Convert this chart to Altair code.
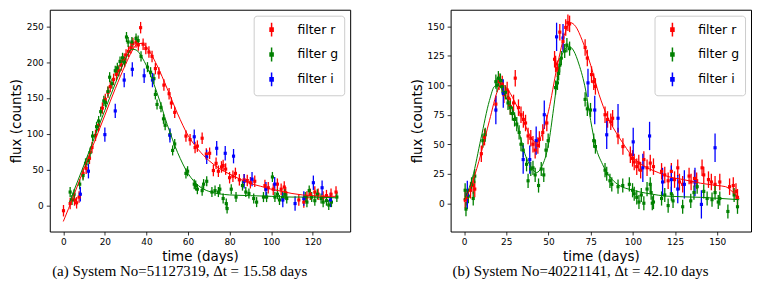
import altair as alt
import pandas as pd

FILTERS = ["filter r", "filter g", "filter i"]
COLORS = ["#ff0000", "#008000", "#0000ff"]

# ---------------- panel (a) ----------------
A_CAPTION = "(a) System No=51127319, \u0394t = 15.58 days"
A_X_DOMAIN = [-6.5, 138]
A_Y_DOMAIN = [-36, 273]
A_X_TICKS = [0, 20, 40, 60, 80, 100, 120]
A_Y_TICKS = [0, 50, 100, 150, 200, 250]
A_ERR = [8, 7, 10]

A_R_T = [0.1, 3.3, 5.4, 6.4, 7.6, 9.5, 11.0, 12.6, 13.8, 15.5, 17.0, 18.8, 20.2, 21.5, 22.6, 24.2,
         25.6, 26.8, 28.0, 29.3, 30.2, 31.4, 32.5, 33.5, 35.0, 36.1, 37.2, 38.4, 39.7, 41.2, 42.7,
         44.3, 46.0, 48.4, 50.9, 52.0, 53.6, 59.0, 61.0, 63.4, 64.5, 66.8, 68.8, 70.4, 72.2, 73.5,
         74.6, 76.1, 76.9, 78.1, 80.0, 81.6, 82.8, 84.7, 87.0, 88.5, 90.0, 92.1, 97.0, 98.6, 101.0,
         103.0, 104.8, 106.3, 107.0, 113.3, 115.7, 117.2, 118.8, 121.0, 122.6, 125.0, 126.6, 128.8, 131.2]
A_R_F = [-7, 3, 8, 4, 12, 45, 52, 66, 81, 98, 112, 136, 148, 158, 166, 176,
         183, 188, 196, 204, 210, 215, 220, 226, 228, 224, 248, 225, 219, 214, 208,
         191, 185, 168, 156, 143, 130, 97, 92, 81, 83, 94, 72, 73, 49, 59,
         48, 54, 56, 51, 39, 41, 45, 36, 36, 35, 32, 34, 28, 25, 23,
         30, 23, 26, 18, 8, 5, 12, 16, 19, 16, 12, 14, 16, 19]

A_G_T = [3.3, 4.2, 5.2, 7.9, 9.5, 10.7, 11.9, 12.9, 14.1, 16.0, 17.0, 18.0, 19.5, 20.3, 21.5, 22.3,
         23.4, 25.0, 26.0, 27.3, 28.5, 29.5, 30.4, 31.2, 33.0, 35.0, 36.0, 37.4, 40.5, 42.0, 43.6,
         44.3, 45.1, 47.0, 48.2, 49.0, 51.3, 52.6, 53.6, 59.0, 59.8, 63.0, 63.7, 64.5, 66.8, 67.5,
         69.0, 71.5, 73.0, 74.6, 75.3, 76.9, 78.4, 78.8, 80.8, 83.1, 86.2, 87.8, 89.3, 91.6, 93.0,
         96.3, 97.8, 100.6, 101.8, 103.0, 104.0, 105.5, 106.6, 107.5, 116.4, 117.2, 118.3, 119.5,
         121.0, 122.2, 124.0, 125.0, 126.6, 127.7, 129.0, 131.6]
A_G_F = [19, 8, 16, 30, 42, 59, 63, 74, 97, 110, 118, 131, 146, 144, 159, 179,
         170, 188, 192, 201, 206, 200, 235, 228, 228, 233, 230, 208, 193, 186, 177,
         155, 141, 137, 121, 112, 99, 77, 86, 45, 48, 30, 28, 23, 21, 30,
         34, 19, 21, 19, 23, 10, 3, -4, 23, 12, 28, 19, 17, 10, 5,
         12, 12, 40, 12, 16, 8, 12, 16, 10, 12, 5, 21, 12,
         7, 16, 10, 5, 7, 1, 5, 12]

A_I_T = [8.2, 12.1, 20.0, 25.0, 29.3, 33.2, 38.9, 42.9, 51.3, 63.0, 69.0, 73.8, 77.9, 81.9,
         87.0, 90.8, 97.5, 101.7, 105.6, 111.5, 115.7, 120.3, 124.5, 128.5]
A_I_F = [16, 48, 99, 132, 175, 190, 181, 175, 98, 96, 68, 80, 73, 69,
         34, 37, 23, 30, 8, 3, 10, 32, 25, 8]

A_FIT_R_T = [0, 5, 10, 15, 20, 25, 30, 33, 36, 38, 40, 45, 50, 55, 60, 65, 70, 75, 80, 85, 90,
             95, 100, 105, 110, 115, 120, 125, 131]
A_FIT_R_F = [-22, 14, 52, 89, 126, 163, 197, 215, 226, 226, 221, 196, 163, 128, 98, 78, 63, 52,
             44, 37, 31, 27, 23, 20, 17, 15, 14, 13, 13]
A_FIT_G_T = [3, 5, 10, 15, 20, 25, 30, 33, 35, 38, 40, 45, 50, 55, 60, 65, 70, 80, 90, 100, 110,
             120, 131]
A_FIT_G_F = [5, 20, 57, 95, 133, 170, 205, 218, 217, 206, 195, 158, 113, 74, 45, 28, 20, 15, 14,
             13, 12, 12, 11]

# ---------------- panel (b) ----------------
B_CAPTION = "(b) System No=40221141, \u0394t = 42.10 days"
B_X_DOMAIN = [-8, 170]
B_Y_DOMAIN = [-24, 164]
B_X_TICKS = [0, 25, 50, 75, 100, 125, 150]
B_Y_TICKS = [0, 25, 50, 75, 100, 125, 150]
B_ERR = [7, 6, 12]

B_R_T = [0.6, 1.6, 3.8, 5.4, 6.3, 10.2, 12.1, 18.8, 20.7, 22.6, 23.6, 25.5, 26.4, 27.4, 29.3, 30.3,
         32.2, 33.7, 35.1, 36.4, 37.9, 39.5, 40.8, 42.1, 43.7, 44.6, 46.6, 49.0, 53.6, 54.2, 55.2,
         56.7, 58.6, 60.2, 61.5, 62.5, 71.7, 73.0, 75.5, 76.8, 77.8, 83.5, 85.0, 86.9, 88.0, 91.2,
         94.1, 98.5, 99.8, 100.8, 102.3, 103.5, 104.6, 106.5, 108.4, 110.3, 112.2, 117.0, 118.9,
         120.9, 122.8, 124.7, 126.6, 127.6, 129.5, 133.3, 134.5, 136.5, 137.8, 141.0, 142.0, 144.8,
         146.5, 148.7, 151.5, 157.3, 159.5, 161.1, 162.0]
B_R_F = [3, 5, 11, 15, 12, 42, 56, 84, 103, 101, 92, 96, 89, 82, 85, 106,
         81, 75, 71, 68, 57, 55, 50, 45, 49, 54, 60, 68, 122, 118, 114,
         145, 137, 149, 153, 152, 132, 123, 109, 103, 99, 75, 71, 69, 72, 57,
         48, 41, 38, 35, 31, 34, 28, 37, 30, 34, 31, 27, 24,
         19, 27, 20, 30, 18, 16, 23, 18, 21, 19, 30, 24, 20,
         18, 16, 18, 14, 15, 10, 5]

B_G_T = [0.6, 1.1, 2.5, 4.4, 5.4, 6.3, 11.1, 12.5, 18.8, 19.5, 20.3, 21.5, 22.5, 24.5, 26.0, 27.3,
         28.6, 29.9, 31.2, 32.6, 33.7, 35.0, 37.0, 37.9, 39.5, 40.8, 42.1, 44.1, 45.7, 47.2, 48.5,
         49.8, 54.2, 55.3, 56.0, 56.7, 57.6, 59.6, 60.9, 62.5, 71.7, 73.0, 74.9, 76.8, 77.8, 83.5,
         84.5, 86.4, 87.5, 91.2, 94.0, 97.9, 99.8, 100.8, 102.3, 103.6, 105.0, 106.5, 108.4, 110.3,
         110.8, 111.5, 112.2, 117.0, 118.9, 120.9, 122.8, 123.8, 129.5, 134.3, 136.2, 138.1, 142.0,
         144.0, 146.9, 148.7, 150.6, 151.5, 156.3, 160.0, 162.0]
B_G_F = [11, -5, 6, 16, 4, 23, 53, 58, 103, 100, 106, 104, 99, 94, 85, 81,
         76, 71, 67, 60, 50, 45, 33, 19, 29, 30, 24, 15, 29, 24, 45,
         53, 98, 102, 110, 117, 123, 129, 134, 131, 88, 80, 79, 53, 48, 28,
         25, 19, 16, 14, 15, 16, 11, 8, 5, 1, 7, 0, 12, 16,
         9, 0, 1, 4, 7, -2, 8, 2, -3, 2, 9, 14, 10,
         4, 3, 9, 1, 4, -7, 7, -3]

B_I_T = [1.9, 18.8, 23.2, 35.0, 38.9, 42.7, 47.5, 54.8, 58.6, 73.4, 77.4, 84.5, 91.2, 100.2,
         105.9, 109.9, 117.6, 122.8, 126.6, 130.5, 136.8, 140.6, 148.7]
B_I_F = [7, 79, 93, 37, 37, 53, 75, 141, 140, 102, 79, 58, 72, 52,
         30, 57, 18, 20, 12, 16, 18, -1, 47]

B_FIT_R_T = [0, 5, 10, 15, 20, 22, 25, 30, 35, 40, 43, 46, 50, 55, 60, 63, 66, 70, 75, 80, 85,
             90, 95, 100, 105, 110, 115, 120, 130, 140, 150, 155, 158, 161, 163]
B_FIT_R_F = [1, 18, 42, 70, 96, 101, 98, 86, 70, 55, 51, 58, 78, 115, 145, 153, 150, 138, 117,
             92, 73, 60, 49, 39, 33, 29, 26, 23, 20, 17, 15, 14, 11, 7, 4]
B_FIT_G_T = [0, 5, 10, 15, 18, 20, 23, 26, 30, 33, 36, 40, 43, 46, 50, 53, 56, 59, 62, 65, 68,
             72, 75, 78, 82, 86, 91, 100, 110, 120, 140, 163]
B_FIT_G_F = [3, 22, 55, 87, 99, 100, 95, 86, 75, 58, 42, 30, 26, 31, 50, 80, 112, 129, 133, 129,
             118, 96, 70, 48, 33, 23, 16, 11, 8, 6, 5, 3]

SYMBOL = "M0,-1V1M-0.22,-0.22H0.22V0.22H-0.22Z"


def points_frame(series, errs):
    rows = []
    for (ts, fs, name), e in zip(series, errs):
        for t, f in zip(ts, fs):
            rows.append({"t": t, "f": f, "lo": f - e, "hi": f + e, "filter": name})
    return pd.DataFrame(rows)


def fit_frame(series):
    rows = []
    for ts, fs, name in series:
        for t, f in zip(ts, fs):
            rows.append({"t": t, "f": f, "filter": name})
    return pd.DataFrame(rows)


def panel(points, fits, xdom, ydom, xticks, yticks, caption):
    x = alt.X("t:Q", scale=alt.Scale(domain=xdom, nice=False, zero=False),
              axis=alt.Axis(values=xticks, title="time (days)"))
    y = alt.Y("f:Q", scale=alt.Scale(domain=ydom, nice=False, zero=False),
              axis=alt.Axis(values=yticks, title="flux (counts)"))
    cscale = alt.Scale(domain=FILTERS, range=COLORS)
    bars = alt.Chart(points).mark_rule(strokeWidth=1.3).encode(
        x=x, y=alt.Y("lo:Q", scale=alt.Scale(domain=ydom, nice=False, zero=False),
                     axis=alt.Axis(values=yticks, title="flux (counts)")),
        y2="hi:Q",
        color=alt.Color("filter:N", scale=cscale, sort=FILTERS,
                        legend=alt.Legend(title=None, symbolType=SYMBOL)),
    )
    dots = alt.Chart(points).mark_square(size=10, opacity=1).encode(
        x=x, y=y, color=alt.Color("filter:N", scale=cscale, sort=FILTERS),
    )
    lines = alt.Chart(fits).mark_line(strokeWidth=1, interpolate="monotone").encode(
        x=x, y=y, color=alt.Color("filter:N", scale=cscale, sort=FILTERS),
    )
    return alt.layer(bars, dots, lines).properties(
        width=302, height=223,
        title=alt.TitleParams(text=caption, orient="bottom", font="Liberation Serif",
                              fontSize=15, fontWeight="normal", color="black",
                              anchor="middle", frame="bounds", offset=1),
    )


a_pts = points_frame([(A_R_T, A_R_F, FILTERS[0]), (A_G_T, A_G_F, FILTERS[1]),
                      (A_I_T, A_I_F, FILTERS[2])], A_ERR)
a_fit = fit_frame([(A_FIT_R_T, A_FIT_R_F, FILTERS[0]), (A_FIT_G_T, A_FIT_G_F, FILTERS[1])])
b_pts = points_frame([(B_R_T, B_R_F, FILTERS[0]), (B_G_T, B_G_F, FILTERS[1]),
                      (B_I_T, B_I_F, FILTERS[2])], B_ERR)
b_fit = fit_frame([(B_FIT_R_T, B_FIT_R_F, FILTERS[0]), (B_FIT_G_T, B_FIT_G_F, FILTERS[1])])

left = panel(a_pts, a_fit, A_X_DOMAIN, A_Y_DOMAIN, A_X_TICKS, A_Y_TICKS, A_CAPTION)
right = panel(b_pts, b_fit, B_X_DOMAIN, B_Y_DOMAIN, B_X_TICKS, B_Y_TICKS, B_CAPTION)

chart = alt.hconcat(left, right, spacing=58).resolve_scale(
    color="independent"
).resolve_legend(color="independent").properties(
    padding={"left": 0, "top": 0, "right": 0, "bottom": 0}
).configure_view(
    stroke="black", strokeWidth=1
).configure_axis(
    grid=False, domain=False, tickColor="black", tickSize=3.5, tickWidth=0.8,
    labelFont="DejaVu Sans", labelFontSize=9, labelColor="black", labelPadding=3,
    titleFont="DejaVu Sans", titleFontSize=13.5, titleFontWeight="normal",
    titleColor="black", titlePadding=3,
).configure_legend(
    orient="top-right", offset=6, padding=6, fillColor="white", strokeColor="#cccccc",
    cornerRadius=3, labelFont="DejaVu Sans", labelFontSize=12.5, labelColor="black",
    symbolSize=196, symbolStrokeWidth=1.5, rowPadding=5, labelOffset=18, symbolOffset=4,
)

chart.save("out.html", embed_options={"renderer": "svg", "actions": False})
